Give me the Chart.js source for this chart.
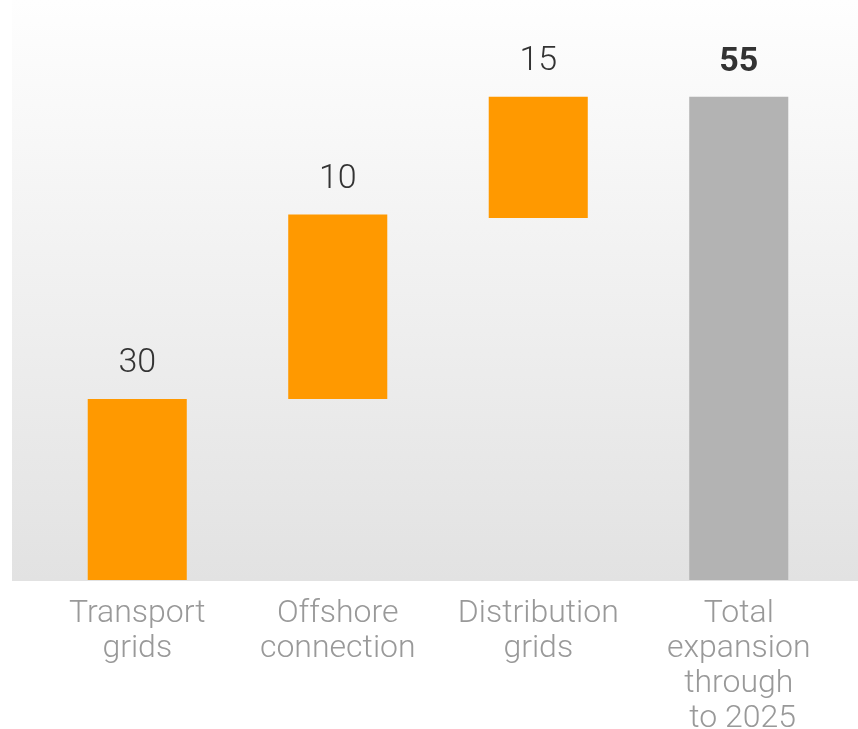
<!DOCTYPE html>
<html>
<head>
<meta charset="utf-8">
<script src="https://cdn.jsdelivr.net/npm/chart.js@4/dist/chart.umd.min.js"></script>
<style>
  html, body { margin: 0; padding: 0; background: #fff; }
  #wrap { width: 858px; height: 729px; }
</style>
</head>
<body>
<div id="wrap"><canvas id="gridChart"></canvas></div>
<script>
// data
const categories = [['Transport', 'grids'], ['Offshore', 'connection'], ['Distribution', 'grids'], ['Total', 'expansion', 'through', ' to 2025']];
const barStart = [0, 20.6, 41.2, 0];
const barEnd = [20.6, 41.6, 55, 55];
const valueLabels = ['30', '10', '15', '55'];
const barColors = ['#ff9900', '#ff9900', '#ff9900', '#b3b3b3'];

// background gradient behind the plot
const bgPlugin = {
  id: 'bg',
  beforeDraw(chart) {
    const { ctx, chartArea } = chart;
    const g = ctx.createLinearGradient(0, chartArea.top, 0, chartArea.bottom);
    g.addColorStop(0, '#fefefe');
    g.addColorStop(1, '#e2e2e2');
    ctx.save();
    ctx.fillStyle = g;
    ctx.fillRect(12, chartArea.top, chart.width - 12, chartArea.bottom - chartArea.top + 1);
    ctx.restore();
  }
};

// value labels above bars
const labelPlugin = {
  id: 'valueLabels',
  afterDatasetsDraw(chart) {
    const { ctx } = chart;
    const meta = chart.getDatasetMeta(0);
    ctx.save();
    ctx.fillStyle = '#333333';
    ctx.textAlign = 'center';
    ctx.textBaseline = 'middle';
    meta.data.forEach((bar, i) => {
      const last = i === valueLabels.length - 1;
      ctx.font = (last ? 'bold ' : '300 ') + '34px Roboto';
      ctx.fillText(valueLabels[i], bar.x, bar.y - (last ? 34.5 : 35));
    });
    ctx.restore();
  }
};

new Chart(document.getElementById('gridChart'), {
  type: 'bar',
  data: {
    labels: categories,
    datasets: [{
      data: barStart.map((s, i) => [s, barEnd[i]]),
      backgroundColor: barColors,
      borderWidth: 0,
      barPercentage: 0.494,
      categoryPercentage: 1
    }]
  },
  options: {
    responsive: true,
    maintainAspectRatio: false,
    animation: false,
    layout: { padding: { left: 37, right: 19, top: 0, bottom: 0 } },
    plugins: { legend: { display: false }, tooltip: { enabled: false } },
    scales: {
      x: {
        grid: { display: false, drawTicks: false },
        border: { display: false },
        afterFit(scale) { scale.height = 149; },
        ticks: {
          color: '#999999',
          padding: 16,
          maxRotation: 0,
          autoSkip: false,
          font: { family: 'Roboto', size: 32, weight: '300', lineHeight: 1.094 }
        }
      },
      y: {
        display: false,
        min: 0,
        max: 66
      }
    }
  },
  plugins: [bgPlugin, labelPlugin]
});
</script>
</body>
</html>
